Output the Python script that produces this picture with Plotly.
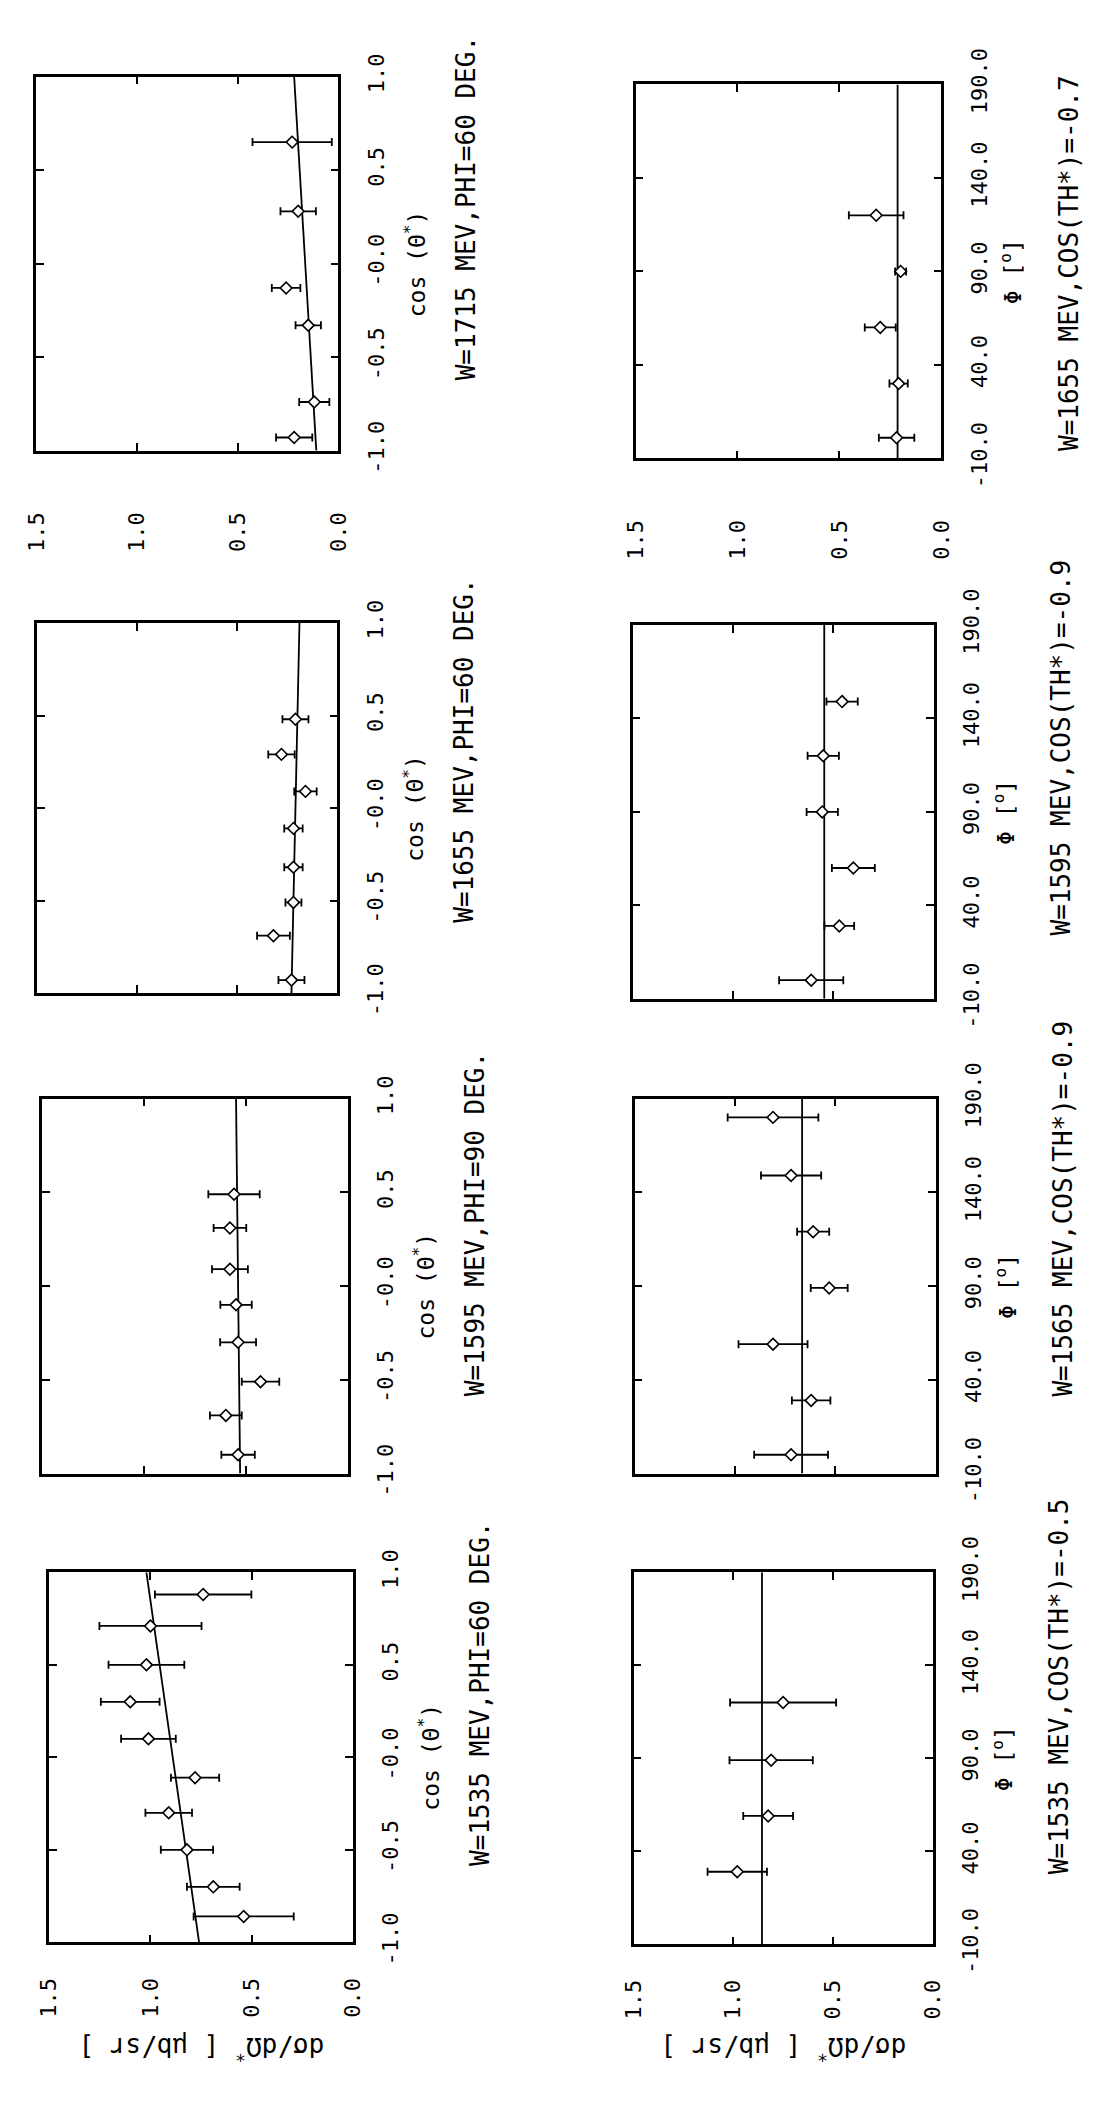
import plotly.graph_objects as go

W, H = 1101, 2107

# ---------------- data ----------------
# Panel A : W=1715 MEV, PHI=60 DEG  (vs cos theta*)
a_cos = [-0.93, -0.74, -0.33, -0.13, 0.28, 0.65]
a_val = [0.22, 0.12, 0.15, 0.26, 0.20, 0.23]
a_err = [0.09, 0.075, 0.063, 0.071, 0.088, 0.197]
a_fit = [0.11, 0.22]          # fit curve at cos = -1, +1

# Panel B : W=1655 MEV, PHI=60 DEG
b_cos = [-0.93, -0.69, -0.51, -0.32, -0.11, 0.09, 0.29, 0.48]
b_val = [0.23, 0.32, 0.22, 0.22, 0.22, 0.16, 0.28, 0.21]
b_err = [0.065, 0.082, 0.04, 0.046, 0.046, 0.056, 0.066, 0.065]
b_fit = [0.23, 0.19]

# Panel C : W=1595 MEV, PHI=90 DEG
c_cos = [-0.90, -0.69, -0.51, -0.30, -0.10, 0.09, 0.31, 0.49]
c_val = [0.54, 0.60, 0.43, 0.54, 0.55, 0.58, 0.58, 0.56]
c_err = [0.082, 0.078, 0.092, 0.088, 0.077, 0.088, 0.080, 0.126]
c_fit = [0.53, 0.55]

# Panel D : W=1535 MEV, PHI=60 DEG
d_cos = [-0.86, -0.70, -0.50, -0.30, -0.11, 0.10, 0.30, 0.50, 0.71, 0.88]
d_val = [0.54, 0.69, 0.82, 0.91, 0.78, 1.01, 1.10, 1.02, 1.00, 0.74]
d_err = [0.247, 0.130, 0.129, 0.115, 0.119, 0.135, 0.145, 0.187, 0.252, 0.238]
d_fit = [0.76, 1.02]

# Panel E : W=1655 MEV, COS(TH*)=-0.7  (vs phi)
e_phi = [1, 30, 60, 90, 120]
e_val = [0.22, 0.21, 0.30, 0.20, 0.32]
e_err = [0.087, 0.045, 0.076, 0.027, 0.134]
e_fit = [0.215, 0.215]        # fit at phi = -10, 190

# Panel F : W=1595 MEV, COS(TH*)=-0.9
f_phi = [0, 29, 60, 90, 120, 149]
f_val = [0.61, 0.47, 0.40, 0.555, 0.55, 0.456]
f_err = [0.16, 0.074, 0.107, 0.078, 0.078, 0.078]
f_fit = [0.545, 0.545]

# Panel G : W=1565 MEV, COS(TH*)=-0.9
g_phi = [0, 29, 59, 89, 119, 149, 180]
g_val = [0.72, 0.62, 0.81, 0.53, 0.61, 0.72, 0.81]
g_err = [0.184, 0.096, 0.172, 0.092, 0.080, 0.150, 0.226]
g_fit = [0.665, 0.665]

# Panel H : W=1535 MEV, COS(TH*)=-0.5
h_phi = [29, 59, 89, 120]
h_val = [0.98, 0.825, 0.81, 0.75]
h_err = [0.149, 0.125, 0.209, 0.266]
h_fit = [0.856, 0.856]

titles = ["W=1715 MEV,PHI=60 DEG.", "W=1655 MEV,COS(TH*)=-0.7",
          "W=1655 MEV,PHI=60 DEG.", "W=1595 MEV,COS(TH*)=-0.9",
          "W=1595 MEV,PHI=90 DEG.", "W=1565 MEV,COS(TH*)=-0.9",
          "W=1535 MEV,PHI=60 DEG.", "W=1535 MEV,COS(TH*)=-0.5"]

cos_ticks = [-1.0, -0.5, 0.0, 0.5, 1.0]
cos_text = ["-1.0", "-0.5", "-0.0", "0.5", "1.0"]
phi_ticks = [-10, 40, 90, 140, 190]
phi_text = ["-10.0", "40.0", "90.0", "140.0", "190.0"]
val_ticks = [0.0, 0.5, 1.0, 1.5]
val_text = ["0.0", "0.5", "1.0", "1.5"]
cos_ends = [-1.0, 1.0]
phi_ends = [-10, 190]

panels = [
    dict(kind="cos", c=a_cos, v=a_val, e=a_err, fit=a_fit),
    dict(kind="phi", c=e_phi, v=e_val, e=e_err, fit=e_fit),
    dict(kind="cos", c=b_cos, v=b_val, e=b_err, fit=b_fit),
    dict(kind="phi", c=f_phi, v=f_val, e=f_err, fit=f_fit),
    dict(kind="cos", c=c_cos, v=c_val, e=c_err, fit=c_fit),
    dict(kind="phi", c=g_phi, v=g_val, e=g_err, fit=g_fit),
    dict(kind="cos", c=d_cos, v=d_val, e=d_err, fit=d_fit),
    dict(kind="phi", c=h_phi, v=h_val, e=h_err, fit=h_fit),
]

# ---------------- layout geometry (pixels) ----------------
boxes = [  # x0, x1, y0(top), y1(bottom)
    (24, 333, 42, 428), (637, 950, 50, 436),
    (25, 332, 606, 988), (634, 942, 608, 994),
    (30, 343, 1097, 1484), (636, 944, 1097, 1484),
    (37, 348, 1586, 1968), (635, 941, 1586, 1970),
]
title_start = [357, 430, 918, 931, 1406, 1407, 1891, 1900]
show_val_labels = [True, True, False, False, False, False, True, True]
val_standoff = [50, 50, 0, 0, 0, 0, 24, 24]

FONT = "DejaVu Sans Mono"
fig = go.Figure()
layout = dict(
    width=W, height=H, margin=dict(l=0, r=0, t=0, b=0),
    paper_bgcolor="white", plot_bgcolor="white", showlegend=False,
    font=dict(family=FONT, color="black"),
)
annotations = []

for i, p in enumerate(panels):
    n = i + 1
    xa = "x" if n == 1 else f"x{n}"
    ya = "y" if n == 1 else f"y{n}"
    x0, x1, y0, y1 = boxes[i]
    ends = cos_ends if p["kind"] == "cos" else phi_ends

    fig.add_trace(go.Scatter(
        x=p["fit"], y=ends, mode="lines", xaxis=xa, yaxis=ya,
        line=dict(color="black", width=1.8), hoverinfo="skip"))
    fig.add_trace(go.Scatter(
        x=p["v"], y=p["c"], mode="markers", xaxis=xa, yaxis=ya,
        error_x=dict(type="data", array=p["e"], color="black",
                     thickness=1.8, width=4),
        marker=dict(symbol="diamond", size=9, color="white",
                    line=dict(color="black", width=1.6))))

    xdict = dict(
        domain=[x0 / W, x1 / W], range=[1.5, 0.0], anchor=ya,
        tickvals=val_ticks, tickangle=-90,
        ticks="inside", ticklen=8, tickwidth=2, tickcolor="black",
        showline=True, linecolor="black", linewidth=2.5, mirror="ticks",
        showgrid=False, zeroline=False,
        showticklabels=show_val_labels[i],
        tickfont=dict(family=FONT, size=22, color="black"))
    if show_val_labels[i]:
        xdict["ticktext"] = val_text
        xdict["ticklabelstandoff"] = val_standoff[i]
    layout["xaxis" if n == 1 else f"xaxis{n}"] = xdict

    if p["kind"] == "cos":
        tv, tt, rng = cos_ticks, cos_text, [-1.0, 1.0]
    else:
        tv, tt, rng = phi_ticks, phi_text, [-10, 190]
    layout["yaxis" if n == 1 else f"yaxis{n}"] = dict(
        domain=[1 - y1 / H, 1 - y0 / H], range=rng, anchor=xa, side="right",
        tickvals=tv, ticktext=tt, tickangle=-90,
        ticks="inside", ticklen=8, tickwidth=2, tickcolor="black",
        showline=True, linecolor="black", linewidth=2.5, mirror="ticks",
        showgrid=False, zeroline=False, ticklabelstandoff=16,
        tickfont=dict(family=FONT, size=22, color="black"))

    # axis label (cos theta* / phi)
    if p["kind"] == "cos":
        lab, off = "cos (Θ<sup>*</sup>)", 78
    else:
        lab, off = "Φ [<sup>o</sup>]", 72
    annotations.append(dict(
        text=lab, textangle=-90, xref="paper", yref="paper",
        x=(x1 + off) / W, y=1 - (y0 + y1) / 2 / H, xanchor="center",
        yanchor="middle", showarrow=False,
        font=dict(family=FONT, size=23, color="black")))
    # panel caption
    annotations.append(dict(
        text=titles[i], textangle=-90, xref="paper", yref="paper",
        x=(x1 + 130) / W, y=1 - title_start[i] / H, xanchor="center",
        yanchor="bottom", showarrow=False,
        font=dict(family=FONT, size=26, color="black")))
    # value axis title, bottom row only (upside down, as in the scan)
    if n in (7, 8):
        annotations.append(dict(
            text="dσ/dΩ<sup>*</sup> [ μb/sr ]", textangle=180,
            xref="paper", yref="paper", x=(x0 + x1) / 2 / W,
            y=1 - 2078 / H, xanchor="center", yanchor="middle",
            showarrow=False, font=dict(family=FONT, size=26, color="black")))

layout["annotations"] = annotations
fig.update_layout(**layout)
fig.write_html("out.html")
